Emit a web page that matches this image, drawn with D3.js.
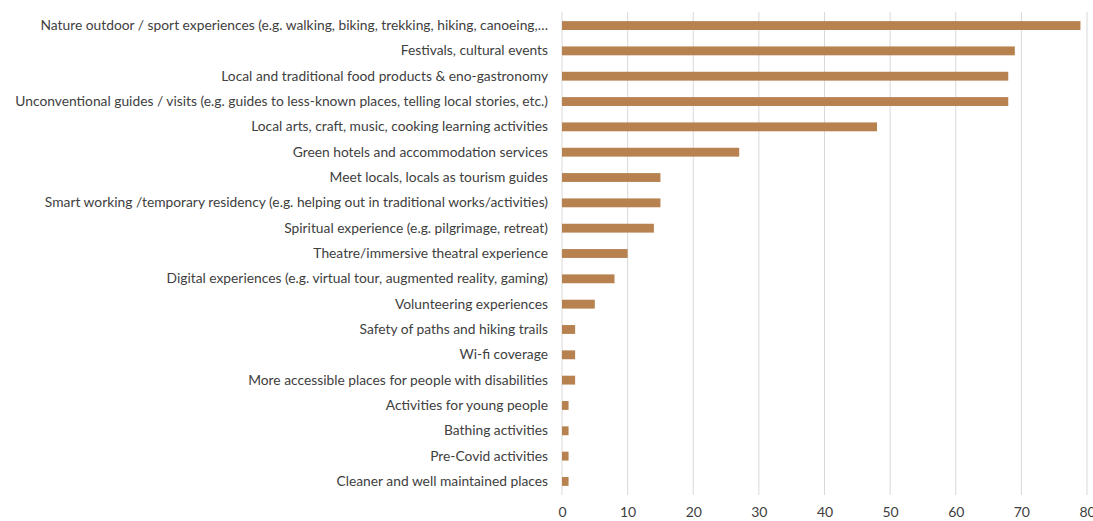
<!DOCTYPE html>
<html>
<head>
<meta charset="utf-8">
<script src="https://cdn.jsdelivr.net/npm/d3@7"></script>
<style>
  body { margin: 0; background: #fff; }
  svg text { font-family: Lato, "Open Sans", sans-serif; fill: #404040; }
</style>
</head>
<body>
<div id="chart"></div>
<script>
const categories = [
  "Nature outdoor / sport experiences (e.g. walking, biking, trekking, hiking, canoeing,…",
  "Festivals, cultural events",
  "Local and traditional food products & eno-gastronomy",
  "Unconventional guides / visits (e.g. guides to less-known places, telling local stories, etc.)",
  "Local arts, craft, music, cooking learning activities",
  "Green hotels and accommodation services",
  "Meet locals, locals as tourism guides",
  "Smart working /temporary residency (e.g. helping out in traditional works/activities)",
  "Spiritual experience (e.g. pilgrimage, retreat)",
  "Theatre/immersive theatral experience",
  "Digital experiences (e.g. virtual tour, augmented reality, gaming)",
  "Volunteering experiences",
  "Safety of paths and hiking trails",
  "Wi-fi coverage",
  "More accessible places for people with disabilities",
  "Activities for young people",
  "Bathing activities",
  "Pre-Covid activities",
  "Cleaner and well maintained places"
];
const values = [79, 69, 68, 68, 48, 27, 15, 15, 14, 10, 8, 5, 2, 2, 2, 1, 1, 1, 1];
const tickValues = [0, 10, 20, 30, 40, 50, 60, 70, 80];

const width = 1093, height = 521;
const margin = {top: 12, right: 6, bottom: 26, left: 562};

const svg = d3.select("#chart").append("svg")
  .attr("width", width)
  .attr("height", height);

const x = d3.scaleLinear()
  .domain([0, 80])
  .range([margin.left, width - margin.right]);

const y = d3.scaleBand()
  .domain(categories)
  .range([margin.top, height - margin.bottom])
  .paddingInner(0.65)
  .paddingOuter(0.36);

// gridlines
svg.append("g")
  .selectAll("line")
  .data(tickValues)
  .join("line")
    .attr("x1", d => x(d))
    .attr("x2", d => x(d))
    .attr("y1", margin.top)
    .attr("y2", height - margin.bottom)
    .attr("stroke", "#d9d9d9")
    .attr("stroke-width", 1);

// bars
svg.append("g")
  .selectAll("rect")
  .data(values)
  .join("rect")
    .attr("x", x(0))
    .attr("y", (d, i) => y(categories[i]))
    .attr("width", d => x(d) - x(0))
    .attr("height", y.bandwidth())
    .attr("fill", "#b7824f");

// category labels
svg.append("g")
  .attr("transform", `translate(${x(0) - 14},0)`)
  .call(d3.axisLeft(y).tickSize(0).tickPadding(0))
  .call(g => g.select(".domain").remove())
  .call(g => g.selectAll("text")
    .attr("font-size", 13.8)
    .attr("font-family", "Lato, sans-serif")
    .attr("fill", "#404040"));

// x axis labels
svg.append("g")
  .attr("transform", `translate(0,${height - margin.bottom})`)
  .call(d3.axisBottom(x).tickValues(tickValues).tickSize(0).tickPadding(12))
  .call(g => g.select(".domain").remove())
  .call(g => g.selectAll("text")
    .attr("font-size", 14)
    .attr("font-family", "Lato, sans-serif")
    .attr("fill", "#404040"));
</script>
</body>
</html>
